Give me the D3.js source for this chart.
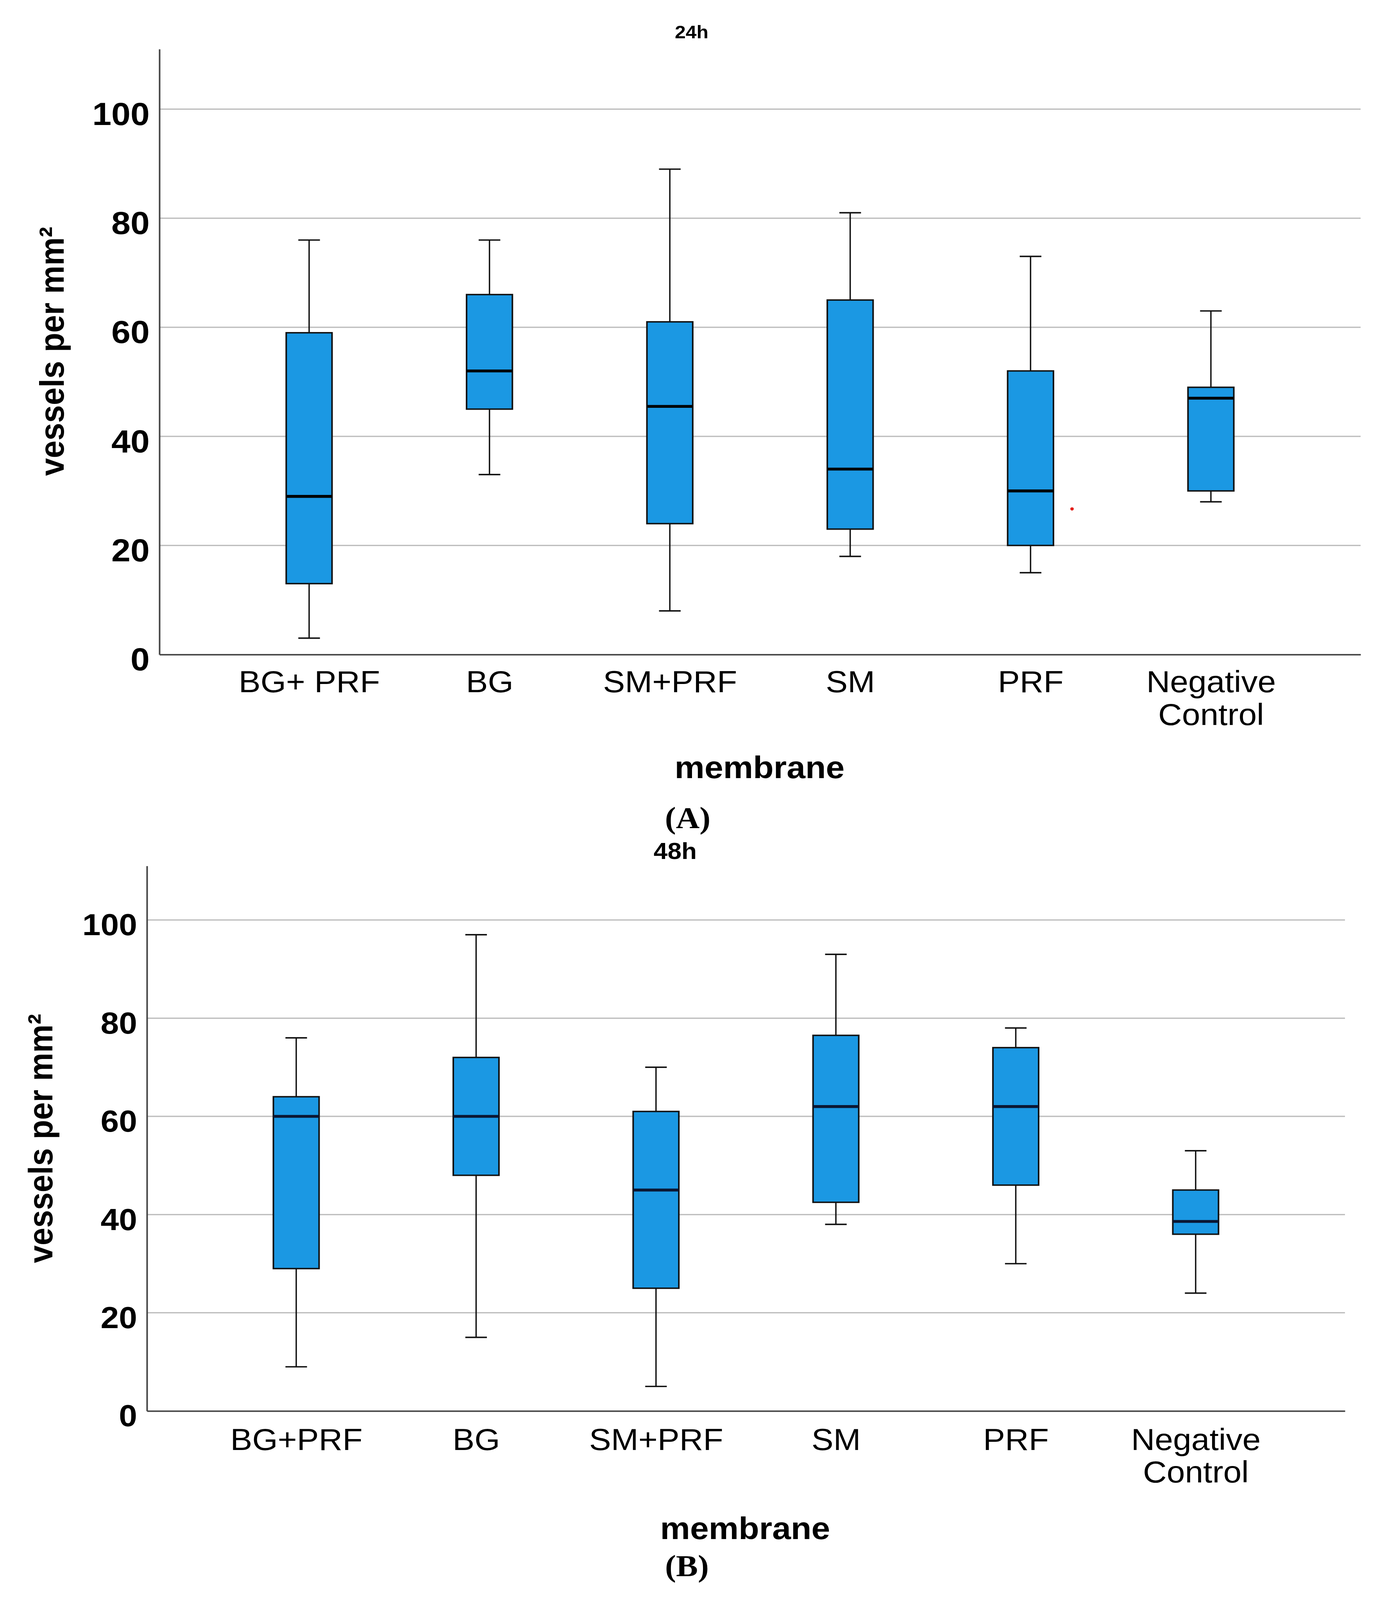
<!DOCTYPE html>
<html>
<head>
<meta charset="utf-8">
<script src="https://cdn.jsdelivr.net/npm/d3@7"></script>
<style>
  body { margin: 0; background: #fff; overflow: hidden; }
  svg { display: block; }
</style>
</head>
<body>
<div id="chart"></div>
<script>
// data (24h and 48h)
var categoriesA = ["BG+ PRF", "BG", "SM+PRF", "SM", "PRF", "Negative\nControl"];
var lowA    = [3, 33, 8, 18, 15, 28];
var q1A     = [13, 45, 24, 23, 20, 30];
var medianA = [29, 52, 45.5, 34, 30, 47];
var q3A     = [59, 66, 61, 65, 52, 49];
var highA   = [76, 76, 89, 81, 73, 63];
// the small red dot next to the PRF box in panel A
var strayA = [{ group: "PRF", value: 26.7 }];

var categoriesB = ["BG+PRF", "BG", "SM+PRF", "SM", "PRF", "Negative\nControl"];
var lowB    = [9, 15, 5, 38, 30, 24];
var q1B     = [29, 48, 25, 42.5, 46, 36];
var medianB = [60, 60, 45, 62, 62, 38.6];
var q3B     = [64, 72, 61, 76.5, 74, 45];
var highB   = [76, 97, 70, 93, 78, 53];

var yTicks = [0, 20, 40, 60, 80, 100];

// drawing is done in the reference's 3547x4427 space and fitted to the window
var svgWidth = 3547;
var svgHeight = 4427;
var sans = "'Liberation Sans', Arial, Helvetica, sans-serif";

var svg = d3.select("#chart")
  .append("svg")
  .attr("width", window.innerWidth || svgWidth)
  .attr("height", window.innerHeight || svgHeight)
  .attr("viewBox", "0 0 " + svgWidth + " " + svgHeight)
  .attr("preserveAspectRatio", "none");

svg.append("rect").attr("width", svgWidth).attr("height", svgHeight).attr("fill", "#fff");

function drawPanel(p) {
  var g = svg.append("g");

  var rows = p.cats.map(function(c, i) {
    return { cat: c, low: p.low[i], q1: p.q1[i], med: p.med[i], q3: p.q3[i], high: p.high[i] };
  });

  var x = d3.scalePoint().domain(p.cats).range([p.left, p.right]).padding(0.83);
  var y = d3.scaleLinear().domain([0, 111]).range([p.bottom, p.top]);
  var boxW = x.step() * 0.254;
  var capW = x.step() * 0.12;

  // gridlines
  g.append("g").selectAll("line")
    .data(yTicks.filter(function(t) { return t > 0; }))
    .enter().append("line")
    .attr("x1", p.left).attr("x2", p.right)
    .attr("y1", function(t) { return y(t); })
    .attr("y2", function(t) { return y(t); })
    .attr("stroke", "#bdbdbd")
    .attr("stroke-width", 3.5);

  // whiskers, boxes, medians
  var boxes = g.selectAll(".box").data(rows).enter().append("g");
  boxes.append("line")
    .attr("x1", function(d) { return x(d.cat); })
    .attr("x2", function(d) { return x(d.cat); })
    .attr("y1", function(d) { return y(d.low); })
    .attr("y2", function(d) { return y(d.high); })
    .attr("stroke", "#111").attr("stroke-width", 3.5);
  ["low", "high"].forEach(function(k) {
    boxes.append("line")
      .attr("x1", function(d) { return x(d.cat) - capW / 2; })
      .attr("x2", function(d) { return x(d.cat) + capW / 2; })
      .attr("y1", function(d) { return y(d[k]); })
      .attr("y2", function(d) { return y(d[k]); })
      .attr("stroke", "#111").attr("stroke-width", 4);
  });
  boxes.append("rect")
    .attr("x", function(d) { return x(d.cat) - boxW / 2; })
    .attr("width", boxW)
    .attr("y", function(d) { return y(d.q3); })
    .attr("height", function(d) { return y(d.q1) - y(d.q3); })
    .attr("fill", "#1b98e3")
    .attr("stroke", "#111")
    .attr("stroke-width", 4);
  boxes.append("line")
    .attr("x1", function(d) { return x(d.cat) - boxW / 2; })
    .attr("x2", function(d) { return x(d.cat) + boxW / 2; })
    .attr("y1", function(d) { return y(d.med); })
    .attr("y2", function(d) { return y(d.med); })
    .attr("stroke", p.medColor).attr("stroke-width", 8);

  // stray points
  g.selectAll(".stray").data(p.stray || []).enter().append("circle")
    .attr("cx", function(d) { return x(d.group) + x.step() * 0.23; })
    .attr("cy", function(d) { return y(d.value); })
    .attr("r", 4.5)
    .attr("fill", "#e3201c");

  // y axis
  var yAxis = g.append("g")
    .attr("transform", "translate(" + p.left + ",0)")
    .call(d3.axisLeft(y).tickValues(yTicks).tickSize(0).tickSizeOuter(0).tickPadding(25));
  yAxis.select(".domain").attr("stroke", "#444").attr("stroke-width", 4);
  yAxis.selectAll("text")
    .attr("y", 15)
    .attr("font-family", sans)
    .attr("font-weight", "bold")
    .attr("font-size", p.tickSize)
    .attr("fill", "#000");

  // x axis
  var xAxis = g.append("g")
    .attr("transform", "translate(0," + p.bottom + ")")
    .call(d3.axisBottom(x).tickSize(0).tickSizeOuter(0).tickPadding(p.xPad).tickFormat(""));
  xAxis.select(".domain").attr("stroke", "#444").attr("stroke-width", 4);
  xAxis.selectAll(".tick text").each(function(d) {
    var t = d3.select(this)
      .attr("font-family", sans)
      .attr("font-size", 84)
      .attr("fill", "#000");
    d.split("\n").forEach(function(line, i) {
      t.append("tspan").attr("x", 0).attr("dy", i === 0 ? "0.71em" : 90).text(line);
    });
  });

  // titles
  g.append("text")
    .attr("x", p.titleX).attr("y", p.titleY)
    .attr("text-anchor", "middle")
    .attr("font-family", sans).attr("font-weight", "bold")
    .attr("font-size", p.titleSize)
    .text(p.title);

  g.append("text")
    .attr("transform", "translate(" + p.yTitleX + "," + p.yTitleY + ") rotate(-90)")
    .attr("text-anchor", "middle")
    .attr("font-family", sans).attr("font-weight", "bold")
    .attr("font-size", 88)
    .text("vessels per mm\u00b2");

  g.append("text")
    .attr("x", p.xTitleX).attr("y", p.xTitleY)
    .attr("text-anchor", "middle")
    .attr("font-family", sans).attr("font-weight", "bold")
    .attr("font-size", 86)
    .text("membrane");

  g.append("text")
    .attr("x", p.tagX).attr("y", p.tagY)
    .attr("text-anchor", "middle")
    .attr("font-family", "'Liberation Serif', 'Times New Roman', serif")
    .attr("font-weight", "bold")
    .attr("font-size", 84)
    .text(p.tag);
}

drawPanel({
  cats: categoriesA, low: lowA, q1: q1A, med: medianA, q3: q3A, high: highA, stray: strayA,
  left: 408, right: 3482, top: 136, bottom: 1811, medColor: "#000",
  tickSize: 88, xPad: 45,
  title: "24h", titleX: 1770, titleY: 106, titleSize: 50,
  yTitleX: 163, yTitleY: 972,
  xTitleX: 1944, xTitleY: 2153,
  tag: "(A)", tagX: 1760, tagY: 2291
});

drawPanel({
  cats: categoriesB, low: lowB, q1: q1B, med: medianB, q3: q3B, high: highB,
  left: 376, right: 3442, top: 2396, bottom: 3904, medColor: "#0b1733",
  tickSize: 84, xPad: 48,
  title: "48h", titleX: 1728, titleY: 2377, titleSize: 64,
  yTitleX: 134, yTitleY: 3150,
  xTitleX: 1907, xTitleY: 4258,
  tag: "(B)", tagX: 1758, tagY: 4361
});
</script>
</body>
</html>
